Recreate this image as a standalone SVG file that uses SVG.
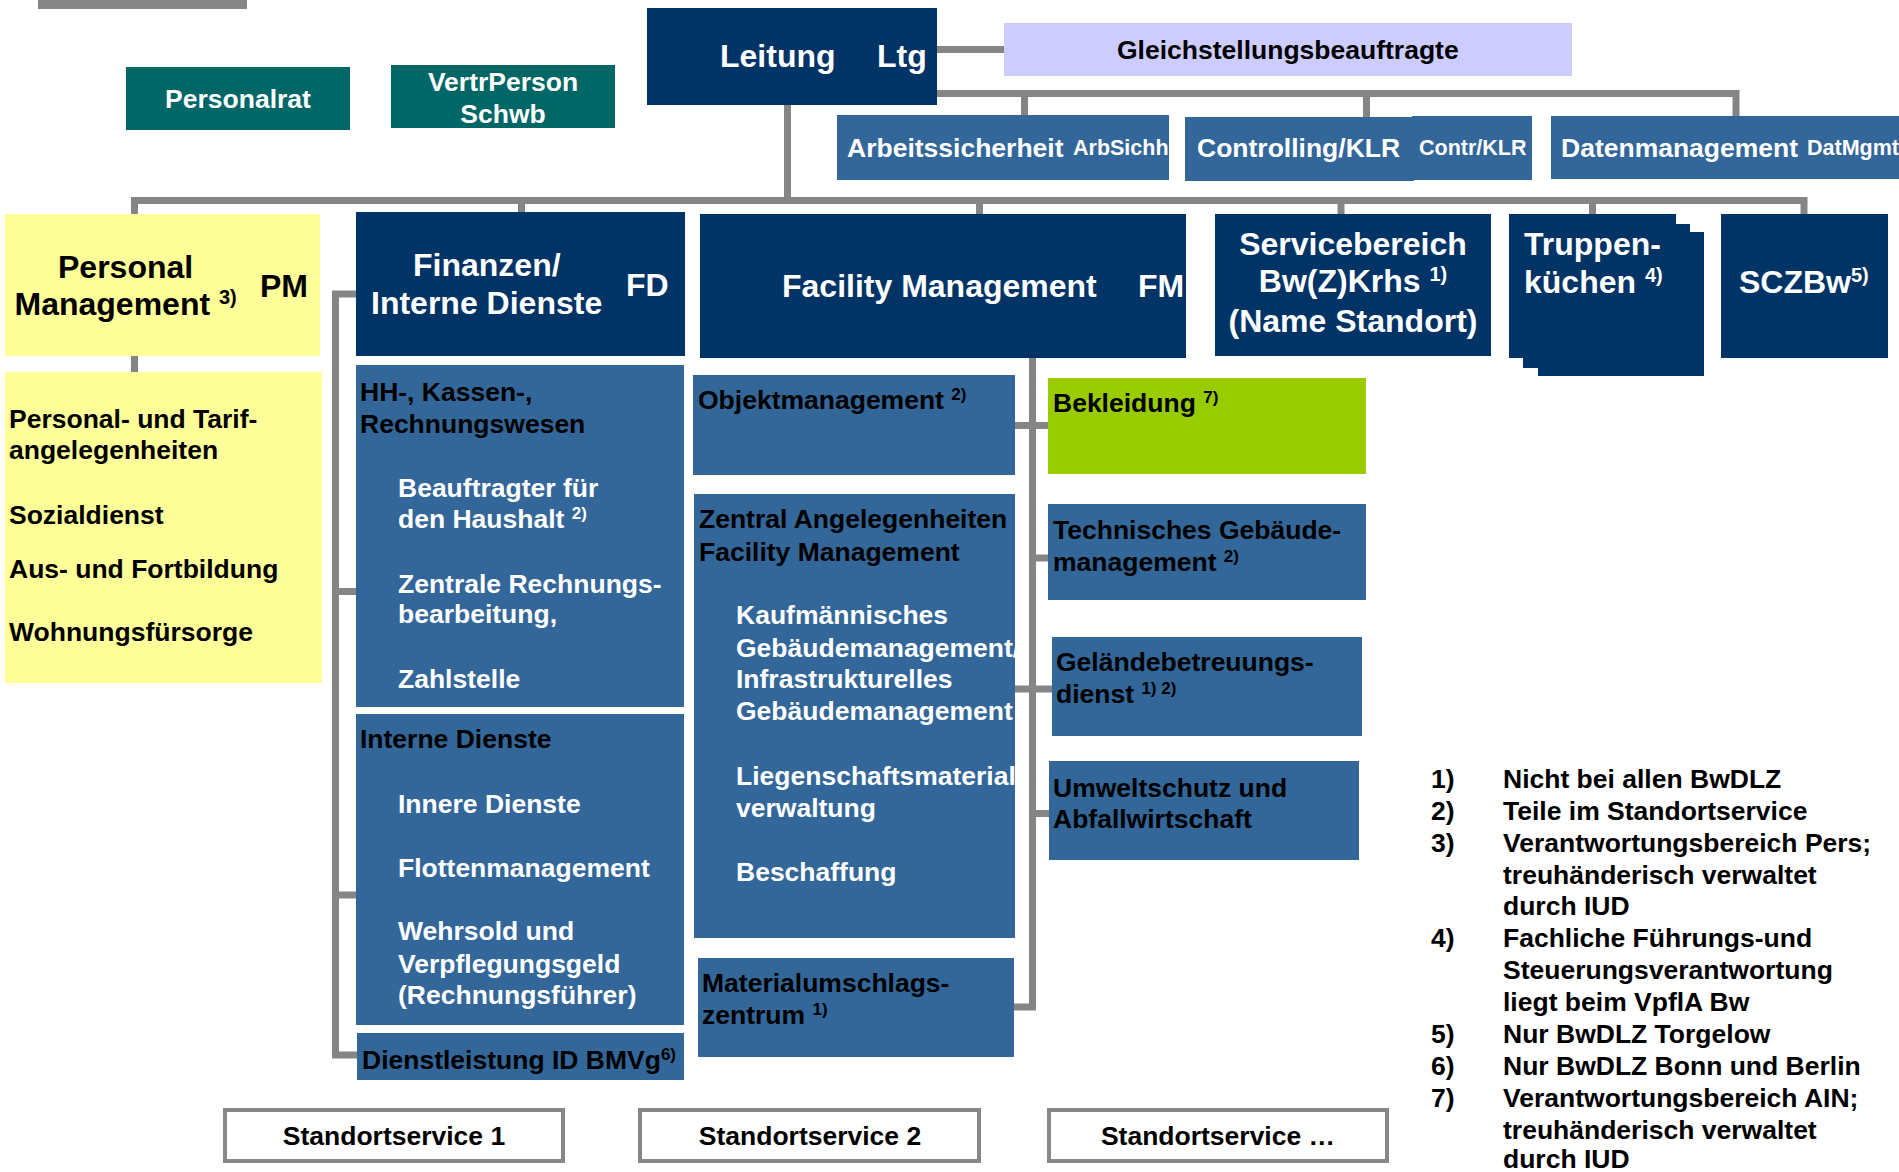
<svg xmlns="http://www.w3.org/2000/svg" width="1899" height="1172" viewBox="0 0 1899 1172">
<style>
text{font-family:"Liberation Sans",Arial,Helvetica,sans-serif;font-weight:bold}
.navy{fill:#003366}.blue{fill:#336699}.teal{fill:#006666}.lav{fill:#CCCCFF}.yel{fill:#FFFF99}.grn{fill:#99CC00}
.w{fill:#ffffff}.k{fill:#000000}
.L{font-size:32px}.M{font-size:26.5px}.S{font-size:21.5px}
.ln{stroke:#858585;stroke-width:7;fill:none}
.ss{fill:#ffffff;stroke:#878787;stroke-width:4}
.c{text-anchor:middle}
</style>
<rect x="38" y="0" width="209" height="9" fill="#858585"/>
<g id="connectors" class="ln">
<path d="M937,49.5H1004"/>
<path d="M937,93.5H1736V116"/>
<path d="M1024.5,93.5V115"/>
<path d="M1366.5,93.5V117"/>
<path d="M787.5,105V200.5"/>
<path d="M134.5,214V200.5H1804V214"/>
<path d="M521.5,200.5V212"/>
<path d="M979.5,200.5V214"/>
<path d="M1341,200.5V214"/>
<path d="M1592.5,200.5V214"/>
<path d="M134.5,356V372"/>
<path d="M356,294H335.5V1055H357"/>
<path d="M335.5,591.5H356"/>
<path d="M335.5,895H356"/>
<path d="M1032.5,358V1007H1014"/>
<path d="M1015,425.5H1048"/>
<path d="M1032.5,558H1048"/>
<path d="M1015,689H1052"/>
<path d="M1032.5,813.5H1049"/>
</g>
<g id="personalrat"><rect class="teal" x="126" y="67" width="224" height="63"/><text class="M w c" x="238" y="108">Personalrat</text></g>
<g id="vertrperson"><rect class="teal" x="391" y="65" width="224" height="63"/><text class="M w c" x="503" y="91">VertrPerson</text><text class="M w c" x="503" y="123">Schwb</text></g>
<g id="leitung"><rect class="navy" x="647" y="8" width="290" height="97"/><text class="L w" x="720" y="67">Leitung</text><text class="L w" x="877" y="67">Ltg</text></g>
<g id="gleichstellung"><rect class="lav" x="1004" y="23" width="568" height="53"/><text class="M k" x="1117" y="59">Gleichstellungsbeauftragte</text></g>
<g id="arbsichh"><rect class="blue" x="837" y="115" width="332" height="65"/><text class="M w" x="847" y="157">Arbeitssicherheit</text><text class="S w" x="1073" y="155">ArbSichh</text></g>
<g id="controlling"><rect class="blue" x="1185" y="117" width="229" height="64"/><rect class="blue" x="1412" y="116" width="120" height="64"/><text class="M w" x="1197" y="157">Controlling/KLR</text><text class="S w" x="1419" y="155">Contr/KLR</text></g>
<g id="datmgmt"><rect class="blue" x="1551" y="116" width="348" height="63"/><text class="M w" x="1561" y="157">Datenmanagement</text><text class="S w" x="1807" y="155">DatMgmt</text></g>
<g id="pm"><rect class="yel" x="5" y="214" width="315" height="142"/><text class="L k" x="58" y="278">Personal</text><text class="L k" x="14.5" y="315">Management <tspan font-size="20" dy="-11">3)</tspan></text><text class="L k" x="260" y="297">PM</text></g>
<g id="pm-sub"><rect class="yel" x="5" y="372" width="317" height="311"/>
<text class="M k" x="9" y="428">Personal- und Tarif-</text><text class="M k" x="9" y="459">angelegenheiten</text>
<text class="M k" x="9" y="524">Sozialdienst</text><text class="M k" x="9" y="578">Aus- und Fortbildung</text><text class="M k" x="9" y="641">Wohnungsfürsorge</text></g>
<g id="fd"><rect class="navy" x="356" y="212" width="329" height="144"/><text class="L w" x="413" y="276">Finanzen/</text><text class="L w" x="371" y="314">Interne Dienste</text><text class="L w" x="626" y="296">FD</text></g>
<g id="fm"><rect class="navy" x="700" y="214" width="486" height="144"/><text class="L w" x="782" y="297">Facility Management</text><text class="L w" x="1138" y="297">FM</text></g>
<g id="servicebereich"><rect class="navy" x="1215" y="214" width="276" height="142"/><text class="L w c" x="1353" y="255">Servicebereich</text><text class="L w c" x="1353" y="292">Bw(Z)Krhs <tspan font-size="20" dy="-11">1)</tspan></text><text class="L w c" x="1353" y="332">(Name Standort)</text></g>
<g id="truppenkuechen"><rect class="navy" x="1538" y="232" width="166" height="144"/><rect class="navy" x="1523" y="224" width="167" height="144"/><rect class="navy" x="1509" y="214" width="167" height="144"/><text class="L w" x="1524" y="255">Truppen-</text><text class="L w" x="1524" y="293">küchen <tspan font-size="20" dy="-11">4)</tspan></text></g>
<g id="sczbw"><rect class="navy" x="1721" y="214" width="167" height="144"/><text class="L w" x="1739" y="293">SCZBw<tspan font-size="20" dy="-11">5)</tspan></text></g>
<g id="hh"><rect class="blue" x="356" y="365" width="328" height="342"/>
<text class="M k" x="360" y="401">HH-, Kassen-,</text><text class="M k" x="360" y="433">Rechnungswesen</text>
<text class="M w" x="398" y="497">Beauftragter für</text><text class="M w" x="398" y="528">den Haushalt <tspan font-size="17" dy="-9">2)</tspan></text>
<text class="M w" x="398" y="593">Zentrale Rechnungs-</text><text class="M w" x="398" y="623">bearbeitung,</text>
<text class="M w" x="398" y="688">Zahlstelle</text></g>
<g id="interne-dienste"><rect class="blue" x="356" y="714" width="328" height="311"/>
<text class="M k" x="360" y="748">Interne Dienste</text>
<text class="M w" x="398" y="813">Innere Dienste</text><text class="M w" x="398" y="877">Flottenmanagement</text>
<text class="M w" x="398" y="940">Wehrsold und</text><text class="M w" x="398" y="973">Verpflegungsgeld</text><text class="M w" x="398" y="1004">(Rechnungsführer)</text></g>
<g id="dienstleistung"><rect class="blue" x="357" y="1033" width="327" height="47"/><text class="M k" x="362" y="1069">Dienstleistung ID BMVg<tspan font-size="17" dy="-9">6)</tspan></text></g>
<g id="objektmanagement"><rect class="blue" x="693" y="375" width="322" height="100"/><text class="M k" x="698" y="409">Objektmanagement <tspan font-size="17" dy="-9">2)</tspan></text></g>
<g id="zentral"><rect class="blue" x="694" y="494" width="321" height="444"/>
<text class="M k" x="699" y="528">Zentral Angelegenheiten</text><text class="M k" x="699" y="561">Facility Management</text>
<text class="M w" x="736" y="624">Kaufmännisches</text><text class="M w" x="736" y="657">Gebäudemanagement/</text><text class="M w" x="736" y="688">Infrastrukturelles</text><text class="M w" x="736" y="720">Gebäudemanagement</text>
<text class="M w" x="736" y="785">Liegenschaftsmaterial</text><text class="M w" x="736" y="817">verwaltung</text>
<text class="M w" x="736" y="881">Beschaffung</text></g>
<g id="materialumschlag"><rect class="blue" x="698" y="958" width="316" height="99"/><text class="M k" x="702" y="992">Materialumschlags-</text><text class="M k" x="702" y="1024">zentrum <tspan font-size="17" dy="-9">1)</tspan></text></g>
<g id="bekleidung"><rect class="grn" x="1048" y="378" width="318" height="96"/><text class="M k" x="1053" y="412">Bekleidung <tspan font-size="17" dy="-9">7)</tspan></text></g>
<g id="technisches"><rect class="blue" x="1048" y="504" width="318" height="96"/><text class="M k" x="1053" y="539">Technisches Gebäude-</text><text class="M k" x="1053" y="571">management <tspan font-size="17" dy="-9">2)</tspan></text></g>
<g id="gelaende"><rect class="blue" x="1052" y="637" width="310" height="99"/><text class="M k" x="1056" y="671">Geländebetreuungs-</text><text class="M k" x="1056" y="703">dienst <tspan font-size="17" dy="-9">1) 2)</tspan></text></g>
<g id="umweltschutz"><rect class="blue" x="1049" y="761" width="310" height="99"/><text class="M k" x="1053" y="797">Umweltschutz und</text><text class="M k" x="1053" y="828">Abfallwirtschaft</text></g>
<g id="standortservice1"><rect class="ss" x="225" y="1110" width="338" height="51"/><text class="M k c" x="394" y="1145">Standortservice 1</text></g>
<g id="standortservice2"><rect class="ss" x="640" y="1110" width="339" height="51"/><text class="M k c" x="810" y="1145">Standortservice 2</text></g>
<g id="standortservice3"><rect class="ss" x="1049" y="1110" width="338" height="51"/><text class="M k c" x="1218" y="1145">Standortservice …</text></g>
<g id="footnotes" class="M k">
<text class="M k" x="1431" y="788">1)</text><text class="M k" x="1503" y="788">Nicht bei allen BwDLZ</text>
<text class="M k" x="1431" y="820">2)</text><text class="M k" x="1503" y="820">Teile im Standortservice</text>
<text class="M k" x="1431" y="852">3)</text><text class="M k" x="1503" y="852">Verantwortungsbereich Pers;</text>
<text class="M k" x="1503" y="884">treuhänderisch verwaltet</text>
<text class="M k" x="1503" y="915">durch IUD</text>
<text class="M k" x="1431" y="947">4)</text><text class="M k" x="1503" y="947">Fachliche Führungs-und</text>
<text class="M k" x="1503" y="979">Steuerungsverantwortung</text>
<text class="M k" x="1503" y="1011">liegt beim VpflA Bw</text>
<text class="M k" x="1431" y="1043">5)</text><text class="M k" x="1503" y="1043">Nur BwDLZ Torgelow</text>
<text class="M k" x="1431" y="1075">6)</text><text class="M k" x="1503" y="1075">Nur BwDLZ Bonn und Berlin</text>
<text class="M k" x="1431" y="1107">7)</text><text class="M k" x="1503" y="1107">Verantwortungsbereich AIN;</text>
<text class="M k" x="1503" y="1139">treuhänderisch verwaltet</text>
<text class="M k" x="1503" y="1168">durch IUD</text>
</g>
</svg>
